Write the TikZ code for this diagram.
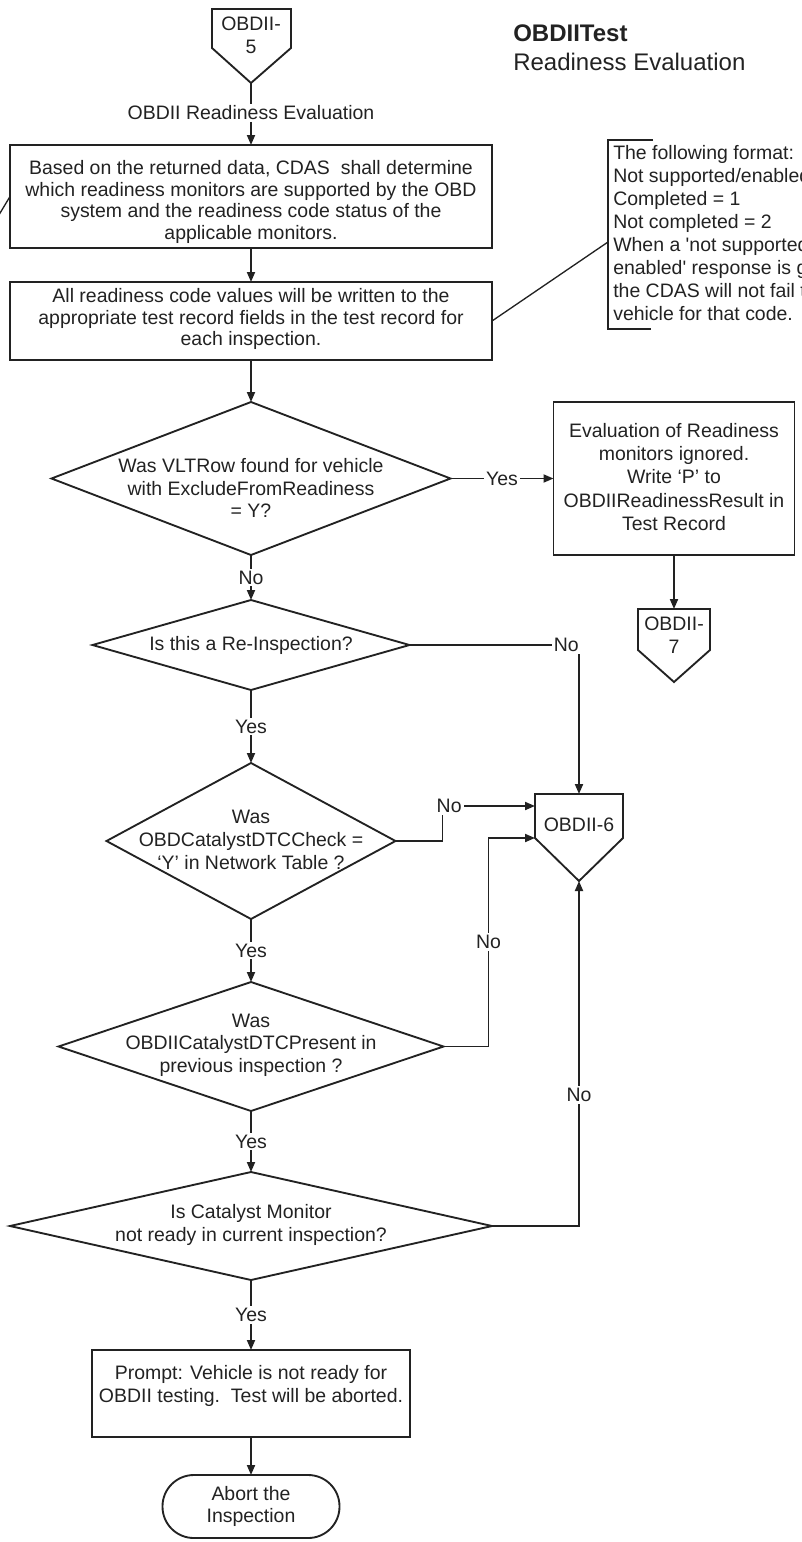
\documentclass[tikz,border=0pt]{standalone}
\usepackage{fontspec}
\setmainfont{Liberation Sans}
\usetikzlibrary{arrows.meta,shapes.geometric}
\definecolor{ink}{HTML}{222222}

\begin{document}
\begin{tikzpicture}[x=0.75pt,y=-0.75pt,
  every node/.style={font=\fontsize{14.6}{17}\selectfont, text=ink},
  ln/.style={draw=ink, line width=1.4pt},
  arr/.style={ln, -{Triangle[length=7.5pt,width=6pt]}},
  box/.style={ln, rectangle, outer sep=0pt, inner sep=0pt},
  dia/.style={ln, diamond, outer sep=0pt, inner sep=0pt},
  txt/.style={align=center, inner sep=1pt},
  lbl/.style={fill=white, inner sep=1.5pt}
]
\useasboundingbox (0,0) rectangle (801,1542);
\clip (0,0) rectangle (801,1542);

% title
\node[anchor=west, inner sep=0pt, font=\fontsize{18}{20}\selectfont\bfseries] (ttl) at (513,33) {OBDIITest};
\node[anchor=west, inner sep=0pt, font=\fontsize{18}{20}\selectfont] (sub) at (513,62) {Readiness Evaluation};

% entry connector OBDII-5
\draw[ln] (212,9) -- (291,9) -- (291,48) -- (251,83) -- (212,48) -- cycle;
\coordinate (o5tip) at (251,83);
\node[txt] (o5) at (251,35) {OBDII-\\5};

\node[txt] (lead) at (251,113) {OBDII Readiness Evaluation};
\draw[ln] (o5tip) -- (lead.north);

% process boxes
\node[box, minimum width=361.5pt, minimum height=77.25pt] (b1) at (251,196.5) {};
\node[txt, font=\fontsize{14.6}{16.3}\selectfont] (b1t) at (251,202) {Based on the returned data, CDAS\ \ shall determine\\which readiness monitors are supported by the OBD\\system and the readiness code status of the\\applicable monitors.};
\draw[arr] (lead.south) -- (b1.north);
\draw[ln, line width=1pt] (b1.west) -- ++(-12,20);

\node[box, minimum width=361.5pt, minimum height=58.5pt] (b2) at (251,321) {};
\node[txt, font=\fontsize{14.6}{16.3}\selectfont] (b2t) at (251,319) {All readiness code values will be written to the\\appropriate test record fields in the test record for\\each inspection.};
\draw[arr] (b1.south) -- (b2.north);

% annotation bracket
\draw[ln, line width=1.2pt] (653,140) -- (608,140) -- (608,329) -- (651,329);
\coordinate (pin) at (608,242);
\draw[ln, line width=1pt] (b2.east) -- (pin);
\node[anchor=north west, align=left, inner sep=0pt, font=\fontsize{14.6}{17.3}\selectfont] (note) at (613,145) {The following format:\\Not supported/enabled = 0\\Completed = 1\\Not completed = 2\\When a \textquotesingle not supported/\\enabled\textquotesingle\ response is given,\\the CDAS will not fail the\\vehicle for that code.};

% exclusion check
\node[dia, minimum width=299.25pt, minimum height=114.75pt] (d1) at (251,478.5) {};
\node[txt] (d1t) at (251,488) {Was VLTRow found for vehicle\\with ExcludeFromReadiness\\= Y?};
\draw[arr] (b2.south) -- (d1.north);

\node[box, minimum width=180.75pt, minimum height=114.75pt] (ev) at (674,478.5) {};
\node[txt, font=\fontsize{14.6}{17.4}\selectfont] (evt) at (674,477) {Evaluation of Readiness\\monitors ignored.\\Write ‘P’ to\\OBDIIReadinessResult in\\Test Record};
\draw[arr] (d1.east) -- node[lbl]{Yes} (ev.west);

% exit connector OBDII-7
\draw[ln] (638,609) -- (710,609) -- (710,650) -- (674,682) -- (638,650) -- cycle;
\coordinate (o7top) at (674,609);
\node[txt] (o7) at (674,635) {OBDII-\\7};
\draw[arr] (ev.south) -- (o7top);

% exit connector OBDII-6
\draw[ln] (535,794) -- (623,794) -- (623,838) -- (579,881) -- (535,838) -- cycle;
\coordinate (o6top) at (579,794);
\coordinate (o6in1) at (535,806);
\coordinate (o6in2) at (535,838);
\coordinate (o6tip) at (579,881);
\node[txt] (o6) at (579,825) {OBDII-6};

% re-inspection check
\node[dia, minimum width=237.75pt, minimum height=67.5pt] (d2) at (251,645) {};
\node[txt] (d2t) at (251,645) {Is this a Re-Inspection?};
\draw[arr] (d1.south) -- node[lbl]{No} (d2.north);
\draw[arr] (d2.east) -| node[lbl, anchor=east, xshift=2pt, pos=0.5]{No} (o6top);

% catalyst DTC check
\node[dia, minimum width=216.75pt, minimum height=117pt] (d3) at (251,841) {};
\node[txt, font=\fontsize{14.6}{17.3}\selectfont] (d3t) at (251,840) {Was\\OBDCatalystDTCCheck =\\‘Y’ in Network Table ?};
\draw[arr] (d2.south) -- node[lbl]{Yes} (d3.north);
\draw[arr] (d3.east) -- ++(47,0) |- node[lbl, pos=0.5, xshift=5pt]{No} (o6in1);

% previous DTC check
\node[dia, minimum width=288.75pt, minimum height=96.75pt] (d4) at (251,1046.5) {};
\node[txt, font=\fontsize{14.6}{17}\selectfont] (d4t) at (251,1045) {Was\\OBDIICatalystDTCPresent in\\previous inspection ?};
\draw[arr] (d3.south) -- node[lbl]{Yes} (d4.north);
\draw[arr] (d4.east) -- ++(45,0) |- node[lbl, pos=0.25]{No} (o6in2);

% catalyst monitor check
\node[dia, minimum width=361.5pt, minimum height=81pt] (d5) at (251,1226) {};
\node[txt] (d5t) at (251,1225) {Is Catalyst Monitor\\not ready in current inspection?};
\draw[arr] (d4.south) -- node[lbl]{Yes} (d5.north);
\draw[arr] (d5.east) -| node[lbl, pos=0.69]{No} (o6tip);

% abort
\node[box, minimum width=238.5pt, minimum height=65.25pt] (pr) at (251,1393.5) {};
\node[txt] (prt) at (251,1386) {Prompt: Vehicle is not ready for\\OBDII testing.\ \ Test will be aborted.};
\draw[arr] (d5.south) -- node[lbl]{Yes} (pr.north);

\node[box, rounded corners=23.5pt, minimum width=132.75pt, minimum height=47.25pt, align=center] (stop) at (251,1506.5) {Abort the\\Inspection};
\draw[arr] (pr.south) -- (stop.north);
\end{tikzpicture}
\end{document}
